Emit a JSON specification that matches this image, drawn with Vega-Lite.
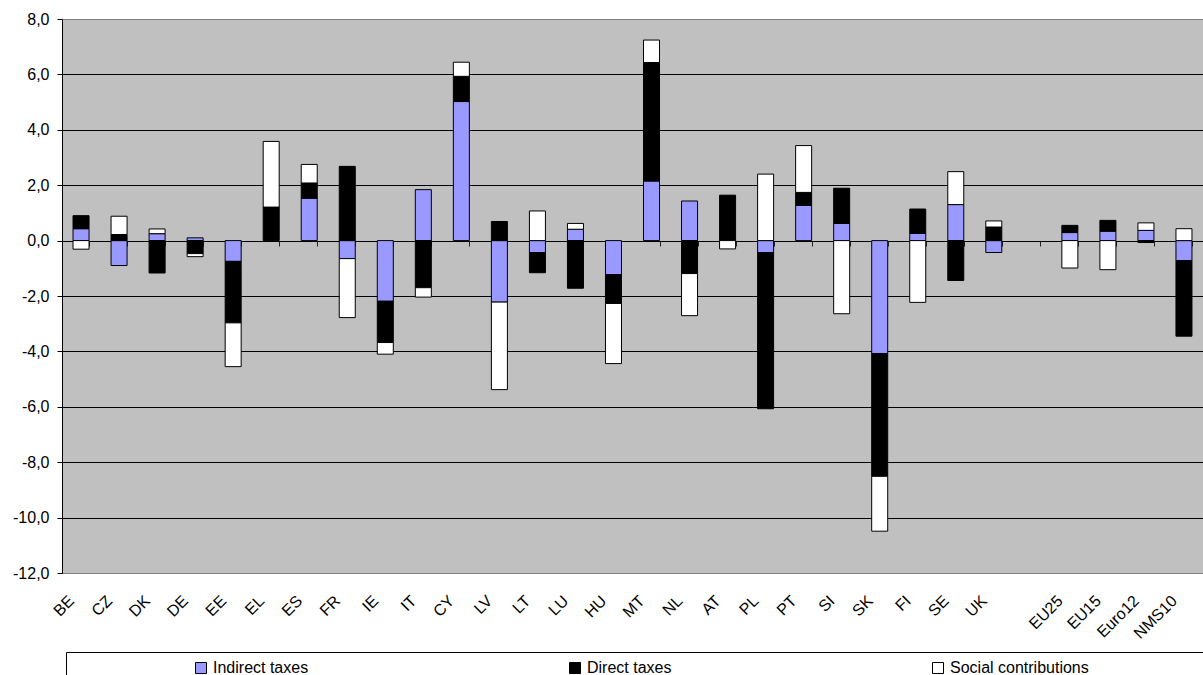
{
  "$schema": "https://vega.github.io/schema/vega-lite/v6.json",
  "width": 1141,
  "height": 554,
  "autosize": {"type": "none"},
  "padding": {"left": 62, "top": 19, "right": 0, "bottom": 102},
  "background": "white",
  "config": {
    "font": "Liberation Sans",
    "view": {"fill": "#C0C0C0", "stroke": "#808080", "strokeWidth": 1}
  },
  "data": {
    "values": [
      {"country": "BE", "tax": "Indirect taxes", "value": 0.43},
      {"country": "BE", "tax": "Direct taxes", "value": 0.47},
      {"country": "BE", "tax": "Social contributions", "value": -0.31},
      {"country": "CZ", "tax": "Indirect taxes", "value": -0.9},
      {"country": "CZ", "tax": "Direct taxes", "value": 0.22},
      {"country": "CZ", "tax": "Social contributions", "value": 0.66},
      {"country": "DK", "tax": "Indirect taxes", "value": 0.25},
      {"country": "DK", "tax": "Direct taxes", "value": -1.17},
      {"country": "DK", "tax": "Social contributions", "value": 0.17},
      {"country": "DE", "tax": "Indirect taxes", "value": 0.1},
      {"country": "DE", "tax": "Direct taxes", "value": -0.47},
      {"country": "DE", "tax": "Social contributions", "value": -0.11},
      {"country": "EE", "tax": "Indirect taxes", "value": -0.75},
      {"country": "EE", "tax": "Direct taxes", "value": -2.22},
      {"country": "EE", "tax": "Social contributions", "value": -1.58},
      {"country": "EL", "tax": "Direct taxes", "value": 1.21},
      {"country": "EL", "tax": "Social contributions", "value": 2.37},
      {"country": "ES", "tax": "Indirect taxes", "value": 1.53},
      {"country": "ES", "tax": "Direct taxes", "value": 0.55},
      {"country": "ES", "tax": "Social contributions", "value": 0.67},
      {"country": "FR", "tax": "Indirect taxes", "value": -0.65},
      {"country": "FR", "tax": "Direct taxes", "value": 2.68},
      {"country": "FR", "tax": "Social contributions", "value": -2.13},
      {"country": "IE", "tax": "Indirect taxes", "value": -2.19},
      {"country": "IE", "tax": "Direct taxes", "value": -1.49},
      {"country": "IE", "tax": "Social contributions", "value": -0.42},
      {"country": "IT", "tax": "Indirect taxes", "value": 1.84},
      {"country": "IT", "tax": "Direct taxes", "value": -1.7},
      {"country": "IT", "tax": "Social contributions", "value": -0.34},
      {"country": "CY", "tax": "Indirect taxes", "value": 5.02},
      {"country": "CY", "tax": "Direct taxes", "value": 0.91},
      {"country": "CY", "tax": "Social contributions", "value": 0.51},
      {"country": "LV", "tax": "Indirect taxes", "value": -2.22},
      {"country": "LV", "tax": "Direct taxes", "value": 0.69},
      {"country": "LV", "tax": "Social contributions", "value": -3.16},
      {"country": "LT", "tax": "Indirect taxes", "value": -0.43},
      {"country": "LT", "tax": "Direct taxes", "value": -0.73},
      {"country": "LT", "tax": "Social contributions", "value": 1.07},
      {"country": "LU", "tax": "Indirect taxes", "value": 0.41},
      {"country": "LU", "tax": "Direct taxes", "value": -1.72},
      {"country": "LU", "tax": "Social contributions", "value": 0.21},
      {"country": "HU", "tax": "Indirect taxes", "value": -1.23},
      {"country": "HU", "tax": "Direct taxes", "value": -1.04},
      {"country": "HU", "tax": "Social contributions", "value": -2.17},
      {"country": "MT", "tax": "Indirect taxes", "value": 2.15},
      {"country": "MT", "tax": "Direct taxes", "value": 4.28},
      {"country": "MT", "tax": "Social contributions", "value": 0.81},
      {"country": "NL", "tax": "Indirect taxes", "value": 1.43},
      {"country": "NL", "tax": "Direct taxes", "value": -1.19},
      {"country": "NL", "tax": "Social contributions", "value": -1.52},
      {"country": "AT", "tax": "Direct taxes", "value": 1.64},
      {"country": "AT", "tax": "Social contributions", "value": -0.3},
      {"country": "PL", "tax": "Indirect taxes", "value": -0.43},
      {"country": "PL", "tax": "Direct taxes", "value": -5.64},
      {"country": "PL", "tax": "Social contributions", "value": 2.4},
      {"country": "PT", "tax": "Indirect taxes", "value": 1.27},
      {"country": "PT", "tax": "Direct taxes", "value": 0.47},
      {"country": "PT", "tax": "Social contributions", "value": 1.69},
      {"country": "SI", "tax": "Indirect taxes", "value": 0.62},
      {"country": "SI", "tax": "Direct taxes", "value": 1.27},
      {"country": "SI", "tax": "Social contributions", "value": -2.64},
      {"country": "SK", "tax": "Indirect taxes", "value": -4.08},
      {"country": "SK", "tax": "Direct taxes", "value": -4.43},
      {"country": "SK", "tax": "Social contributions", "value": -1.98},
      {"country": "FI", "tax": "Indirect taxes", "value": 0.26},
      {"country": "FI", "tax": "Direct taxes", "value": 0.88},
      {"country": "FI", "tax": "Social contributions", "value": -2.23},
      {"country": "SE", "tax": "Indirect taxes", "value": 1.3},
      {"country": "SE", "tax": "Direct taxes", "value": -1.44},
      {"country": "SE", "tax": "Social contributions", "value": 1.19},
      {"country": "UK", "tax": "Indirect taxes", "value": -0.43},
      {"country": "UK", "tax": "Direct taxes", "value": 0.49},
      {"country": "UK", "tax": "Social contributions", "value": 0.22},
      {"country": "EU25", "tax": "Indirect taxes", "value": 0.29},
      {"country": "EU25", "tax": "Direct taxes", "value": 0.26},
      {"country": "EU25", "tax": "Social contributions", "value": -0.99},
      {"country": "EU15", "tax": "Indirect taxes", "value": 0.34},
      {"country": "EU15", "tax": "Direct taxes", "value": 0.39},
      {"country": "EU15", "tax": "Social contributions", "value": -1.05},
      {"country": "Euro12", "tax": "Indirect taxes", "value": 0.37},
      {"country": "Euro12", "tax": "Direct taxes", "value": -0.07},
      {"country": "Euro12", "tax": "Social contributions", "value": 0.27},
      {"country": "NMS10", "tax": "Indirect taxes", "value": -0.72},
      {"country": "NMS10", "tax": "Direct taxes", "value": -2.73},
      {"country": "NMS10", "tax": "Social contributions", "value": 0.43}
    ]
  },
  "transform": [
    {"calculate": "indexof(['Indirect taxes', 'Direct taxes', 'Social contributions'], datum.tax)", "as": "stack_rank"}
  ],
  "mark": {"type": "bar", "stroke": "black", "strokeWidth": 1},
  "encoding": {
    "x": {
      "field": "country",
      "type": "nominal",
      "sort": null,
      "scale": {
        "domain": ["BE", "CZ", "DK", "DE", "EE", "EL", "ES", "FR", "IE", "IT", "CY", "LV", "LT", "LU", "HU", "MT", "NL", "AT", "PL", "PT", "SI", "SK", "FI", "SE", "UK", " ", "EU25", "EU15", "Euro12", "NMS10"],
        "paddingInner": 0.579,
        "paddingOuter": 0.29
      },
      "axis": {
        "title": null,
        "orient": "bottom",
        "offset": -332,
        "domain": false,
        "grid": false,
        "ticks": true,
        "tickBand": "extent",
        "tickSize": 5,
        "tickColor": "#222222",
        "tickWidth": 1,
        "labelAngle": -45,
        "labelAlign": "right",
        "labelBaseline": "middle",
        "labelPadding": 352,
        "labelOffset": -10,
        "labelFont": "Liberation Sans",
        "labelFontSize": 16,
        "labelColor": "black",
        "labelOverlap": false
      }
    },
    "y": {
      "field": "value",
      "type": "quantitative",
      "stack": "zero",
      "scale": {"domain": [-12, 8], "nice": false, "zero": false},
      "axis": {
        "title": null,
        "values": [-12, -10, -8, -6, -4, -2, 0, 2, 4, 6, 8],
        "labelExpr": "replace(replace(format(datum.value, '.1f'), '.', ','), '\u2212', '-')",
        "grid": true,
        "gridColor": {"condition": {"test": "datum.value == 8 || datum.value == -12", "value": "#808080"}, "value": "black"},
        "gridWidth": 1,
        "domainColor": "black",
        "domainWidth": 1,
        "tickColor": "black",
        "tickSize": 5,
        "labelPadding": 8,
        "labelFont": "Liberation Sans",
        "labelFontSize": 16,
        "labelColor": "black"
      }
    },
    "color": {
      "field": "tax",
      "type": "nominal",
      "scale": {
        "domain": ["Indirect taxes", "Direct taxes", "Social contributions"],
        "range": ["#9999FF", "#000000", "#FFFFFF"]
      },
      "legend": {
        "orient": "none",
        "legendX": 4,
        "legendY": 633,
        "direction": "horizontal",
        "columns": 3,
        "columnPadding": 258,
        "gridAlign": "each",
        "title": " ",
        "titleOrient": "left",
        "titlePadding": 119,
        "titleFontSize": 16,
        "strokeColor": "black",
        "fillColor": "white",
        "padding": 8,
        "labelFont": "Liberation Sans",
        "labelFontSize": 16,
        "labelColor": "black",
        "labelLimit": 700,
        "labelOffset": 4,
        "labelExpr": "datum.value == 'Social contributions' ? 'Social contributions\u00a0\u00a0\u00a0\u00a0\u00a0\u00a0\u00a0\u00a0\u00a0\u00a0\u00a0\u00a0\u00a0\u00a0\u00a0\u00a0\u00a0\u00a0\u00a0\u00a0\u00a0\u00a0\u00a0\u00a0\u00a0\u200b' : datum.label",
        "symbolType": "square",
        "symbolSize": 121,
        "symbolStrokeColor": "black",
        "symbolStrokeWidth": 1
      }
    },
    "order": {"field": "stack_rank", "type": "quantitative"}
  }
}
